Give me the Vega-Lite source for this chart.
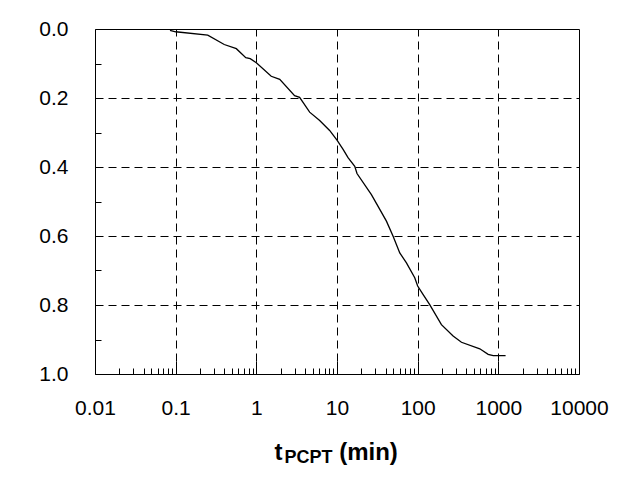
{
  "$schema": "https://vega.github.io/schema/vega-lite/v6.json",
  "autosize": {"type": "none"},
  "width": 484,
  "height": 345,
  "padding": {"left": 95, "top": 29, "right": 61, "bottom": 118},
  "background": "white",
  "config": {
    "view": {"stroke": "black", "strokeWidth": 1},
    "axis": {
      "labelFont": "Liberation Sans",
      "labelFontSize": 21,
      "labelColor": "black",
      "titleFont": "Liberation Sans",
      "titleColor": "black",
      "titleFontWeight": "bold",
      "domain": false,
      "tickColor": "black",
      "gridColor": "black",
      "gridDash": [8, 5],
      "gridWidth": 1,
      "labelFlush": false,
      "labelOverlap": false
    }
  },
  "data": {
    "values": [
      {"t": 0.085, "u": 0.004},
      {"t": 0.1, "u": 0.008},
      {"t": 0.25, "u": 0.018},
      {"t": 0.40, "u": 0.045},
      {"t": 0.565, "u": 0.057},
      {"t": 0.74, "u": 0.083},
      {"t": 0.84, "u": 0.086},
      {"t": 1.0, "u": 0.098},
      {"t": 1.53, "u": 0.137},
      {"t": 1.95, "u": 0.146},
      {"t": 2.98, "u": 0.193},
      {"t": 3.44, "u": 0.198},
      {"t": 4.58, "u": 0.241},
      {"t": 6.1, "u": 0.265},
      {"t": 8.1, "u": 0.294},
      {"t": 10.0, "u": 0.322},
      {"t": 11.9, "u": 0.349},
      {"t": 13.7, "u": 0.373},
      {"t": 16.6, "u": 0.398},
      {"t": 17.7, "u": 0.419},
      {"t": 26.7, "u": 0.480},
      {"t": 32.3, "u": 0.514},
      {"t": 41, "u": 0.557},
      {"t": 49.6, "u": 0.601},
      {"t": 60, "u": 0.649},
      {"t": 72.6, "u": 0.678},
      {"t": 92, "u": 0.721},
      {"t": 100, "u": 0.745},
      {"t": 117, "u": 0.770},
      {"t": 141, "u": 0.799},
      {"t": 197, "u": 0.857},
      {"t": 275, "u": 0.890},
      {"t": 349, "u": 0.908},
      {"t": 589, "u": 0.927},
      {"t": 748, "u": 0.943},
      {"t": 863, "u": 0.947},
      {"t": 1230, "u": 0.947}
    ]
  },
  "layer": [
    {
      "mark": {"type": "line", "color": "black", "strokeWidth": 1.3},
      "encoding": {
        "x": {
          "field": "t", "type": "quantitative",
          "scale": {"type": "log", "domain": [0.01, 10000], "nice": false},
          "axis": {
            "orient": "bottom",
            "values": [0.01,0.02,0.03,0.04,0.05,0.06,0.07,0.08,0.09,0.1,0.2,0.3,0.4,0.5,0.6,0.7,0.8,0.9,1,2,3,4,5,6,7,8,9,10,20,30,40,50,60,70,80,90,100,200,300,400,500,600,700,800,900,1000,2000,3000,4000,5000,6000,7000,8000,9000,10000],
            "format": "~g",
            "labelExpr": "abs(log(datum.value)/LN10 - round(log(datum.value)/LN10)) < 0.001 ? datum.label : ''",
            "tickSize": {"condition": {"test": "abs(log(datum.value)/LN10 - round(log(datum.value)/LN10)) < 0.001", "value": -13}, "value": -6},
            "grid": true,
            "gridOpacity": {"condition": {"test": "abs(log(datum.value)/LN10 - round(log(datum.value)/LN10)) < 0.001 && datum.value > 0.011 && datum.value < 9999", "value": 1}, "value": 0},
            "labelPadding": 36,
            "title": "(min)",
            "titleFontSize": 24,
            "titleAlign": "center",
            "titleBaseline": "alphabetic",
            "titleX": 273,
            "titleY": 85
          }
        },
        "y": {
          "field": "u", "type": "quantitative",
          "scale": {"domain": [0, 1], "reverse": true, "nice": false},
          "axis": {
            "values": [0,0.1,0.2,0.3,0.4,0.5,0.6,0.7,0.8,0.9,1],
            "format": ".1f",
            "labelExpr": "round(datum.value*10) % 2 == 0 ? datum.label : ''",
            "tickSize": -6,
            "grid": true,
            "gridOpacity": {"condition": {"test": "round(datum.value*10) % 2 == 0 && datum.value > 0.05 && datum.value < 0.95", "value": 1}, "value": 0},
            "labelPadding": 33,
            "title": null
          }
        }
      }
    },
    {
      "mark": {"type": "line", "opacity": 0},
      "encoding": {
        "x": {
          "field": "t", "type": "quantitative",
          "scale": {"type": "log", "domain": [0.01, 10000], "nice": false},
          "axis": {
            "orient": "bottom",
            "labels": false, "ticks": false, "grid": false,
            "title": "t",
            "titleFontSize": 24,
            "titleAlign": "center",
            "titleBaseline": "alphabetic",
            "titleX": 183,
            "titleY": 85
          }
        },
        "y": {"field": "u", "type": "quantitative", "scale": {"domain": [0, 1], "reverse": true, "nice": false}, "axis": null}
      }
    },
    {
      "mark": {"type": "line", "opacity": 0},
      "encoding": {
        "x": {
          "field": "t", "type": "quantitative",
          "scale": {"type": "log", "domain": [0.01, 10000], "nice": false},
          "axis": {
            "orient": "bottom",
            "labels": false, "ticks": false, "grid": false,
            "title": "PCPT",
            "titleFontSize": 18,
            "titleAlign": "center",
            "titleBaseline": "alphabetic",
            "titleX": 213,
            "titleY": 88
          }
        },
        "y": {"field": "u", "type": "quantitative", "scale": {"domain": [0, 1], "reverse": true, "nice": false}, "axis": null}
      }
    }
  ],
  "resolve": {"axis": {"x": "independent", "y": "independent"}}
}
